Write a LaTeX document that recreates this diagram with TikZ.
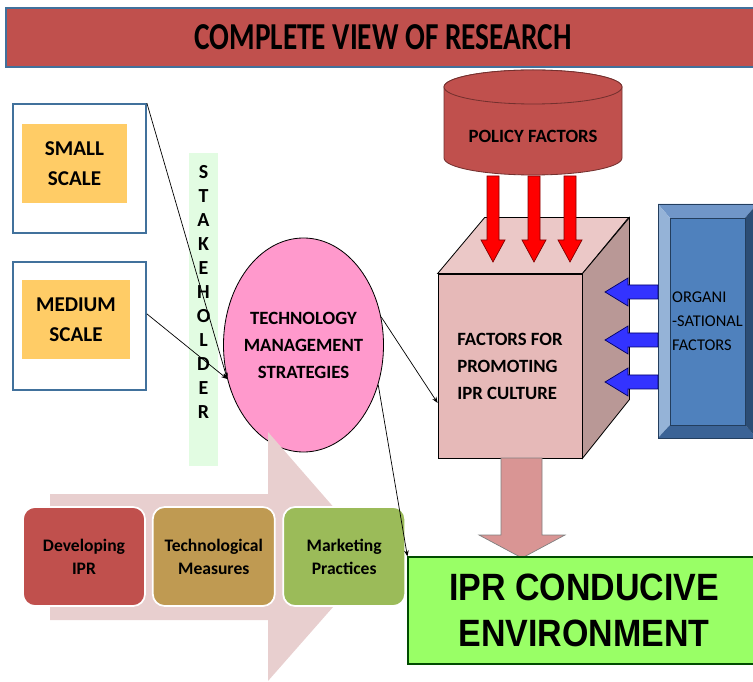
\documentclass[tikz,border=0pt]{standalone}
\usepackage{graphicx}
\usepackage{fontspec}
\setmainfont{Carlito}
\newfontfamily\arialfont{Liberation Sans}
\usetikzlibrary{shapes.geometric}
\usetikzlibrary{arrows.meta}
\usetikzlibrary{positioning}

\definecolor{titlered}{HTML}{C0504D}
\definecolor{frameblue}{HTML}{41719C}
\definecolor{scaleorange}{HTML}{FFCC66}
\definecolor{stripgreen}{HTML}{E2FCE2}
\definecolor{tmspink}{HTML}{FF99CC}
\definecolor{cubefront}{HTML}{E6B9B8}
\definecolor{cubetop}{HTML}{EBC8C7}
\definecolor{cubeside}{HTML}{B99896}
\definecolor{orgmid}{HTML}{4F81BD}
\definecolor{orglight}{HTML}{95B3D7}
\definecolor{orgtop}{HTML}{7096C8}
\definecolor{orgdark}{HTML}{2C4D75}
\definecolor{orgbottom}{HTML}{3B6396}
\definecolor{pushblue}{HTML}{3333FF}
\definecolor{downpink}{HTML}{D99594}
\definecolor{envgreen}{HTML}{99FF66}
\definecolor{fadepink}{HTML}{E8CFCF}
\definecolor{devred}{HTML}{C0504D}
\definecolor{techtan}{HTML}{BF9A52}
\definecolor{mktgreen}{HTML}{9BBB59}

\begin{document}
\begin{tikzpicture}
[x=0.03cm,y=0.03cm,>={Stealth[length=1.8mm,width=1.4mm]},%
  every node/.style={inner sep=0pt,align=center},
  scalebox/.style={draw=frameblue,line width=1.5pt,fill=white,minimum width=3.99cm},
  scaletext/.style={fill=scaleorange,minimum height=2.37cm,font=\fontsize{18}{25.5}\selectfont\bfseries},
  stepbox/.style={draw=white,line width=1.5pt,rounded corners=0.36cm,minimum width=3.66cm,minimum height=2.97cm,font=\fontsize{15}{19.6}\selectfont\bfseries},
  redarrow/.style={fill=red,draw=red!50!black,line width=0.6pt},
  bluearrow/.style={fill=pushblue,draw=blue!40!black,line width=0.6pt},
  cyl/.style={fill=titlered,draw=titlered!60!black,line width=0.7pt}]
\useasboundingbox (0,0) rectangle (753,-682);
%% title
\node[fill=titlered,draw=frameblue,line width=1.5pt,minimum width=22.62cm,minimum height=1.77cm] (title) at (383,-37.5)
  {\fontsize{25}{30}\selectfont\bfseries\scalebox{1}[1.3]{COMPLETE VIEW OF RESEARCH}};
%% stakeholders
\node[scalebox,minimum height=3.87cm] (smallbox) at (79.5,-168.5) {};
\node[scalebox,minimum height=3.84cm] (medbox) [below=0.81cm of smallbox] {};
\node[scaletext,minimum width=3.15cm] (small) at (74.5,-163.5) {SMALL\\SCALE};
\node[scaletext,minimum width=3.24cm] (medium) at (76,-319.5) {MEDIUM\\SCALE};
\node[fill=stripgreen,minimum width=0.87cm,minimum height=9.39cm] (strip) at (203.5,-309.5) {};
\foreach \l [count=\i] in {S,T,A,K,E,H,O,L,D,E,R}
  \node[font=\fontsize{17}{19}\selectfont\bfseries] (sh\i) at (203.5,{-172-24*(\i-1)}) {\l};
%% strategies
\node[ellipse,draw,fill=tmspink,line width=0.7pt,minimum width=4.8cm,minimum height=6.42cm] (tms) at (303.5,-345) {};
\node[font=\fontsize{16}{23}\selectfont\bfseries] (tmstext) at (tms.center) {TECHNOLOGY\\MANAGEMENT\\STRATEGIES};
\fill[fadepink] (50,-494) -- (268,-494) -- (268,-432) -- (377,-557) -- (268,-681) -- (268,-620) -- (50,-620) -- cycle;
\node[stepbox,fill=devred] (dev) at (84,-556.5) {Developing\\IPR};
\node[stepbox,fill=techtan] (tech) [right=0.18cm of dev] {Technological\\Measures};
\node[stepbox,fill=mktgreen] (mkt) [right=0.2cm of tech] {Marketing\\Practices};
%% policy factors
\draw[cyl] (444,-87) -- (444,-158) arc[start angle=180,end angle=360,x radius=89,y radius=17]
  -- (622,-87) arc[start angle=0,end angle=180,x radius=89,y radius=17] -- cycle;
\draw[cyl] (533,-87) ellipse [x radius=89,y radius=17];
\node[font=\fontsize{16}{20}\selectfont\bfseries] (policy) at (533,-136) {POLICY FACTORS};
%% cube
\node[draw,fill=cubefront,line width=0.7pt,minimum width=4.32cm,minimum height=5.52cm,
  align=left,font=\fontsize{16}{23}\selectfont\bfseries] (front) at (510,-366)
  {FACTORS FOR\\PROMOTING\\IPR CULTURE};
\draw[fill=cubetop,line width=0.7pt] (front.north west) -- ++(47,56) -- ++(144,0) -- (front.north east) -- cycle;
\draw[fill=cubeside,line width=0.7pt] (front.north east) -- ++(47,56) -- ++(0,-182) -- (front.south east) -- cycle;
\foreach \x in {493,534,570}
  \draw[redarrow] (\x-6,-176) -- (\x-6,-240) -- (\x-12,-240) -- (\x,-262) -- (\x+12,-240) -- (\x+6,-240) -- (\x+6,-176) -- cycle;
%% organisational factors
\fill[orgtop] (658,-204) -- (757,-204) -- (745,-218) -- (670,-218) -- cycle;
\fill[orglight] (658,-204) -- (670,-218) -- (670,-425) -- (658,-438) -- cycle;
\fill[orgbottom] (658,-438) -- (670,-425) -- (745,-425) -- (757,-438) -- cycle;
\fill[orgdark] (757,-204) -- (757,-438) -- (745,-425) -- (745,-218) -- cycle;
\draw[orgdark!80!black,line width=0.7pt] (658,-204) rectangle (757,-438);
\node[draw=orgdark!80!black,line width=0.5pt,fill=orgmid,minimum width=2.25cm,minimum height=6.21cm,
  align=left,font=\fontsize{14}{20.5}\selectfont] (org) at (707.5,-321.5)
  {ORGANI\\-SATIONAL\\FACTORS};
\foreach \y in {-292,-340,-382}
  \draw[bluearrow] (658,\y+7) -- (628,\y+7) -- (628,\y+14) -- (605,\y) -- (628,\y-14) -- (628,\y-7) -- (658,\y-7) -- cycle;
%% environment
\draw[fill=downpink,draw=gray,line width=0.6pt] (501,-458) -- (501,-535) -- (479,-535) -- (522,-558)
  -- (565,-535) -- (542,-535) -- (542,-458) -- cycle;
\node[draw=black!70!green,fill=envgreen,line width=1pt,minimum width=10.56cm,minimum height=3.21cm,
  font=\arialfont\fontsize{29}{39}\selectfont\bfseries] (envbox) at (584,-610.5)
  {\scalebox{1}[1.12]{IPR CONDUCIVE}\\\scalebox{1}[1.12]{ENVIRONMENT}};
%% connectors
\path[->,line width=0.6pt]
(smallbox.north east) edge (tms.204)
(medbox.10) edge (tms.204)
(tms.20) edge (front.207)
(tms.332) edge (envbox.north west);
\end{tikzpicture}
\end{document}
